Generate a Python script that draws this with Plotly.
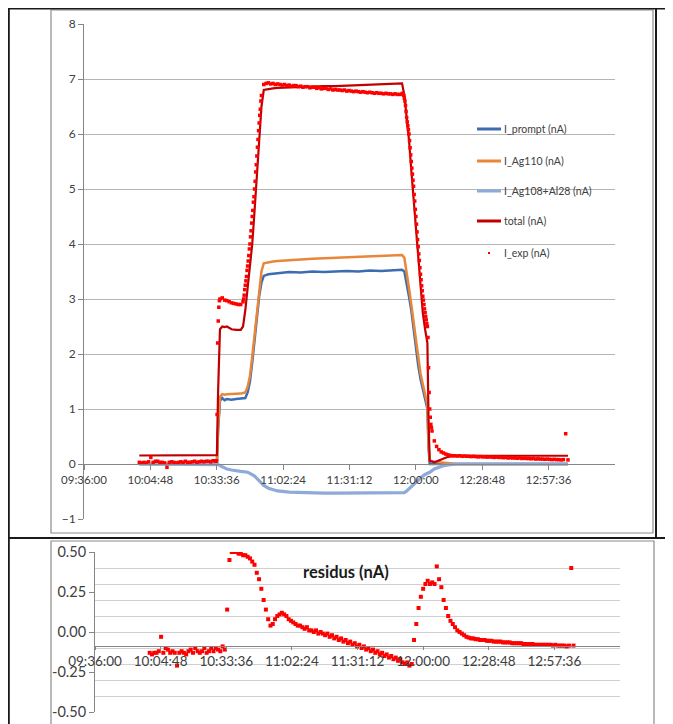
import pandas as pd
import plotly.graph_objects as go

DAY = "2024-01-01 "

# ---------------- data ----------------
tick_labels = ["09:36:00", "10:04:48", "10:33:36", "11:02:24",
               "11:31:12", "12:00:00", "12:28:48", "12:57:36"]
x_range = ["09:36:00", "13:26:24"]

t_model = [
    "10:00:00", "10:33:40", "10:34:10", "10:34:40", "10:35:00", "10:36:00", "10:37:00", "10:38:00", "10:40:00", "10:42:00",
    "10:44:00", "10:45:00", "10:46:00", "10:47:00", "10:48:00", "10:49:00", "10:50:00", "10:51:00", "10:52:00", "10:53:00",
    "10:54:00", "10:56:00", "10:58:00", "11:00:00", "11:05:00", "11:10:00", "11:15:00", "11:20:00", "11:25:00", "11:30:00",
    "11:35:00", "11:40:00", "11:45:00", "11:50:00", "11:54:00", "11:55:00", "11:56:00", "11:57:00", "11:58:00", "11:59:00",
    "12:00:00", "12:01:00", "12:02:00", "12:03:00", "12:04:00", "12:05:00", "12:05:30", "12:06:00", "12:08:00", "12:10:00",
    "12:12:00", "12:14:00", "12:16:00", "12:18:00", "12:20:00", "12:25:00", "12:30:00", "12:45:00", "13:00:00", "13:06:00"]

i_prompt = [
    0, 0, 0.6, 1.1, 1.15, 1.2, 1.16, 1.18, 1.17, 1.18,
    1.19, 1.2, 1.2, 1.3, 1.5, 1.85, 2.25, 2.65, 3.05, 3.3,
    3.42, 3.45, 3.46, 3.47, 3.49, 3.48, 3.5, 3.49, 3.5, 3.51,
    3.5, 3.52, 3.51, 3.52, 3.53, 3.5, 3.3, 3.05, 2.8, 2.45,
    2.1, 1.8, 1.55, 1.35, 1.2, 1.0, 0.3, 0.0, 0, 0,
    0, 0, 0, 0, 0, 0, 0, 0, 0, 0]

i_ag110 = [
    0, 0, 0.65, 1.15, 1.22, 1.27, 1.26, 1.27, 1.27, 1.28,
    1.28, 1.29, 1.3, 1.4, 1.6, 1.95, 2.35, 2.8, 3.2, 3.5,
    3.65, 3.67, 3.68, 3.69, 3.71, 3.72, 3.73, 3.74, 3.74, 3.75,
    3.76, 3.77, 3.78, 3.79, 3.8, 3.75, 3.5, 3.2, 2.9, 2.6,
    2.25, 1.95, 1.65, 1.45, 1.25, 1.08, 0.35, 0.06, 0.04, 0.03,
    0.02, 0.01, 0.0, 0, 0, 0, 0, 0, 0, 0]

i_ag108_al28 = [
    0, 0, -0.01, -0.02, -0.03, -0.05, -0.07, -0.09, -0.11, -0.13,
    -0.135, -0.14, -0.14, -0.15, -0.17, -0.19, -0.22, -0.26, -0.3, -0.35,
    -0.39, -0.44, -0.47, -0.49, -0.51, -0.52, -0.53, -0.53, -0.53, -0.53,
    -0.53, -0.53, -0.53, -0.53, -0.53, -0.52, -0.49, -0.45, -0.41, -0.37,
    -0.33, -0.29, -0.25, -0.22, -0.19, -0.17, -0.16, -0.15, -0.09, -0.055,
    -0.03, -0.015, -0.005, 0, 0, 0, 0, 0, 0, 0]

total = [
    0.155, 0.16, 1.3, 2.3, 2.45, 2.5, 2.49, 2.5, 2.45, 2.44,
    2.44, 2.5, 2.8, 3.2, 3.6, 4.0, 4.6, 5.3, 5.9, 6.5,
    6.8, 6.82, 6.83, 6.84, 6.85, 6.85, 6.86, 6.87, 6.87, 6.88,
    6.89, 6.9, 6.9, 6.91, 6.92, 6.7, 6.35, 5.9, 5.35, 4.8,
    4.25, 3.7, 3.15, 2.75, 2.45, 2.2, 0.8, 0.06, 0.03, 0.06,
    0.1, 0.13, 0.145, 0.15, 0.15, 0.15, 0.15, 0.15, 0.15, 0.15]

# measured current, one sample per minute from 10:00
exp_start = "10:00:00"
i_exp = [
    0.03, 0.02, 0.03, 0.02, 0.04, 0.12, 0.03, 0.05, 0.05, 0.03,
    0.03, 0.02, -0.06, 0.03, 0.04, 0.03, 0.02, 0.03, 0.04, 0.03,
    0.05, 0.03, 0.03, 0.04, 0.05, 0.03, 0.04, 0.05, 0.04, 0.05,
    0.05, 0.04, 0.06, 0.05,
    2.2, 3.0, 3.02, 2.98, 2.97, 2.95, 2.93, 2.92, 2.91, 2.9, 2.9,
    2.95, 3.25, 3.6, 4.0, 4.5, 5.0, 5.6, 6.2, 6.7, 6.9,
    6.92, 6.93, 6.91, 6.92, 6.90, 6.91, 6.90, 6.89, 6.90, 6.88,
    6.89, 6.87, 6.88, 6.88, 6.86, 6.87, 6.85, 6.86, 6.86, 6.84,
    6.85, 6.85, 6.83, 6.84, 6.82, 6.83, 6.83, 6.81, 6.82, 6.80,
    6.81, 6.80, 6.80, 6.79, 6.80, 6.78, 6.79, 6.78, 6.77, 6.78,
    6.77, 6.76, 6.77, 6.76, 6.75, 6.76, 6.75, 6.74, 6.75, 6.74,
    6.74, 6.73, 6.74, 6.73, 6.73, 6.72, 6.73, 6.72, 6.72, 6.73,
    6.65, 6.3, 6.0, 5.5, 5.05, 4.5, 3.95, 3.45, 3.05, 2.75, 2.5,
    1.0, 0.6, 0.42, 0.32, 0.26, 0.22, 0.2, 0.18, 0.165, 0.155,
    0.15, 0.15, 0.145, 0.15, 0.14, 0.145, 0.14, 0.14, 0.135, 0.14,
    0.135, 0.13, 0.135, 0.13, 0.13, 0.125, 0.13, 0.125, 0.12, 0.125,
    0.12, 0.12, 0.115, 0.12, 0.11, 0.115, 0.11, 0.11, 0.105, 0.11,
    0.10, 0.105, 0.10, 0.10, 0.095, 0.10, 0.09, 0.095, 0.09, 0.09,
    0.085, 0.09, 0.085, 0.08, 0.085, 0.08, 0.08, 0.075, 0.08, 0.55, 0.075]

# extra measured samples (at :15, :30, :45 s) during the fast transitions
fast_windows = [("10:33:00", "10:34:59"), ("10:45:00", "10:52:59"), ("11:54:00", "12:06:59")]
i_exp_fast = [
    0.05, 0.06, 0.9,   2.6, 2.85, 2.97,
    3.0, 3.07, 3.17,   3.33, 3.41, 3.52,   3.69, 3.79, 3.91,   4.13, 4.24, 4.38,
    4.61, 4.76, 4.86,  5.14, 5.31, 5.44,   5.76, 5.9, 6.06,    6.34, 6.45, 6.6,
    6.74, 6.72, 6.7,   6.6, 6.52, 6.41,    6.22, 6.15, 6.08,   5.88, 5.75, 5.62,
    5.38, 5.27, 5.16,  4.9, 4.78, 4.63,    4.36, 4.22, 4.08,   3.82, 3.7, 3.57,
    3.35, 3.24, 3.15,  2.98, 2.9, 2.82,    2.68, 2.62, 2.55,   2.3, 1.75, 1.3,
    0.85, 0.72, 0.66]

residus = [
    -0.13, -0.14, -0.13, -0.13, -0.12, -0.03, -0.13, -0.10, -0.11, -0.13,
    -0.12, -0.13, -0.21, -0.13, -0.12, -0.13, -0.14, -0.12, -0.11, -0.13,
    -0.10, -0.12, -0.13, -0.12, -0.10, -0.13, -0.12, -0.10, -0.12, -0.10,
    -0.11, -0.12, -0.09, -0.11,
    0.14, 0.45, 0.50, 0.50, 0.50, 0.49, 0.49, 0.48, 0.48, 0.47, 0.46,
    0.44, 0.42, 0.37, 0.33, 0.27, 0.20, 0.14, 0.08, 0.04, 0.05,
    0.08, 0.10, 0.11, 0.12, 0.11, 0.10, 0.08, 0.07, 0.06, 0.05,
    0.04, 0.04, 0.03, 0.02, 0.03, 0.01, 0.01, 0.00, 0.01, -0.01,
    0.00, -0.01, -0.02, -0.01, -0.03, -0.02, -0.04, -0.03, -0.05, -0.04,
    -0.06, -0.05, -0.07, -0.06, -0.08, -0.07, -0.09, -0.08, -0.10, -0.09,
    -0.11, -0.10, -0.12, -0.11, -0.13, -0.12, -0.14, -0.13, -0.15, -0.14,
    -0.16, -0.15, -0.17, -0.16, -0.18, -0.17, -0.19, -0.20, -0.19, -0.21,
    -0.20, -0.05, 0.05, 0.15, 0.22, 0.27, 0.30, 0.32, 0.30, 0.31, 0.30,
    0.41, 0.33, 0.28, 0.20, 0.15, 0.10, 0.07, 0.05, 0.03, 0.01,
    0.00, -0.01, -0.02, -0.03, -0.035, -0.04, -0.04, -0.045, -0.045, -0.05,
    -0.05, -0.05, -0.055, -0.055, -0.055, -0.06, -0.06, -0.06, -0.06, -0.065,
    -0.065, -0.065, -0.065, -0.07, -0.07, -0.07, -0.07, -0.07, -0.075, -0.075,
    -0.075, -0.075, -0.075, -0.08, -0.08, -0.08, -0.08, -0.08, -0.08, -0.08,
    -0.08, -0.085, -0.08, -0.085, -0.085, -0.085, -0.085, -0.09, -0.085, 0.40, -0.085]

series_names = ["I_prompt (nA)", "I_Ag110 (nA)", "I_Ag108+Al28 (nA)", "total (nA)", "I_exp (nA)"]
res_title = "residus (nA)"
y_ticks_res = [0.5, 0.25, 0.0, -0.25, -0.5]

# ---------------- styling ----------------
# the page body adds an 8 px margin; the figure is sized and positioned to compensate
OFF = 8
W, H = 673 - OFF, 724 - OFF
def px(x):
    return (x - OFF) / W
def py(y):
    return 1 - (y - OFF) / H

FONT = "Lato, Roboto, sans-serif"
TXT = "#404040"
AX = "#868686"
colors = ["#3C6DB0", "#E8863A", "#8EAAD8", "#C00000", "#FF0000"]
widths = [2.5, 2.5, 3.2, 2.2]

tm = [DAY + t for t in t_model]
t_exp = pd.date_range(DAY + exp_start, periods=len(i_exp), freq="min")
t_fast = []
for a, b in fast_windows:
    rng = pd.date_range(DAY + a, DAY + b, freq="15s")
    t_fast.extend([t for t in rng if t.second != 0])
tickvals = [DAY + t for t in tick_labels]
xr = [DAY + t for t in x_range]

fig = go.Figure()
for name, vals, c, w in zip(series_names[:4], [i_prompt, i_ag110, i_ag108_al28, total], colors, widths):
    fig.add_trace(go.Scatter(x=tm, y=vals, mode="lines", name=name,
                             line=dict(color=c, width=w), xaxis="x", yaxis="y"))
exp_marker = dict(color=colors[4], size=3.5, symbol="square", line=dict(width=0))
fig.add_trace(go.Scatter(x=list(t_exp) + t_fast, y=i_exp + i_exp_fast, mode="markers",
                         name=series_names[4], marker=exp_marker, xaxis="x", yaxis="y"))
fig.add_trace(go.Scatter(x=t_exp, y=residus, mode="markers", name=res_title,
                         marker=dict(color="#FF0000", size=4, symbol="square", line=dict(width=0)),
                         xaxis="x2", yaxis="y2"))
# invisible trace to carry the label axis of the residual chart
fig.add_trace(go.Scatter(x=[xr[0]], y=[0], mode="markers", marker=dict(opacity=0),
                         hoverinfo="skip", xaxis="x2", yaxis="y3"))

y0_top = 464  # pixel row of y=0 in top chart
fig.update_layout(
    width=W, height=H, margin=dict(l=0, r=0, t=0, b=0, autoexpand=False),
    paper_bgcolor="white", plot_bgcolor="rgba(0,0,0,0)", showlegend=False,
    font=dict(family=FONT, color=TXT),
    xaxis=dict(domain=[px(84), px(615)], type="date", range=xr, automargin=False,
               tickmode="array", tickvals=tickvals, ticktext=tick_labels,
               anchor="free", position=py(y0_top), showgrid=False, zeroline=False,
               showline=True, linecolor=AX, linewidth=1, ticks="outside", ticklen=5,
               tickcolor=AX, tickfont=dict(size=11.5, family=FONT, color=TXT)),
    yaxis=dict(domain=[py(519), py(24)], range=[-1, 8], dtick=1, tick0=0, anchor="x",
               automargin=False,
               showgrid=True, gridcolor="#B5B5B5", gridwidth=1, zeroline=False,
               showline=True, linecolor=AX, ticks="outside", ticklen=5, tickcolor=AX,
               tickfont=dict(size=12, family=FONT, color=TXT)),
    xaxis2=dict(domain=[px(95), px(620)], type="date", range=xr, automargin=False,
                tickmode="array", tickvals=tickvals, ticktext=tick_labels,
                anchor="free", position=py(646), showgrid=False, zeroline=False,
                showline=True, linecolor=AX, ticks="outside", ticklen=3, tickcolor=AX,
                tickfont=dict(size=13.5, family=FONT, color=TXT)),
    yaxis2=dict(domain=[py(712), py(552)], range=[-0.5, 0.5], dtick=0.1, tick0=0,
                anchor="x2", automargin=False,
                showgrid=True, gridcolor="#D0D0D0", zeroline=False,
                showticklabels=False, ticks="", showline=True, linecolor=AX),
    yaxis3=dict(domain=[py(712), py(552)], range=[-0.5, 0.5], overlaying="y2", anchor="x2",
                automargin=False,
                tickmode="array", tickvals=y_ticks_res,
                ticktext=["%.2f" % v for v in y_ticks_res],
                showgrid=False, zeroline=False, ticks="outside", ticklen=5, tickcolor=AX,
                tickfont=dict(size=14.5, family=FONT, color=TXT)),
)

shapes = []
# chart frames (grey)
shapes.append(dict(type="rect", xref="paper", yref="paper", x0=px(51), x1=px(653), y0=py(533), y1=py(10),
                   line=dict(color="#8C8C8C", width=1.2)))
shapes.append(dict(type="rect", xref="paper", yref="paper", x0=px(51), x1=px(654), y0=py(740), y1=py(541),
                   line=dict(color="#8C8C8C", width=1.2)))
# table borders (black)
for (x0, y0, x1, y1) in [(8, 8.6, 673, 8.6), (8.8, 8, 8.8, 730), (8, 538, 673, 538), (656, 8, 656, 538)]:
    shapes.append(dict(type="line", xref="paper", yref="paper", x0=px(x0), y0=py(y0), x1=px(x1), y1=py(y1),
                       line=dict(color="#1A1A1A", width=2)))

# legend (drawn manually)
leg_y = [129, 161, 191, 221, 253]
annotations = []
for i, name in enumerate(series_names):
    if i < 4:
        shapes.append(dict(type="line", xref="paper", yref="paper", x0=px(477), x1=px(501),
                           y0=py(leg_y[i]), y1=py(leg_y[i]), line=dict(color=colors[i], width=3)))
    else:
        shapes.append(dict(type="rect", xref="paper", yref="paper", x0=px(488), x1=px(490),
                           y0=py(leg_y[i] + 1), y1=py(leg_y[i] - 1), fillcolor=colors[i],
                           line=dict(width=0)))
    annotations.append(dict(xref="paper", yref="paper", x=px(502), y=py(leg_y[i]), text=name,
                            showarrow=False, xanchor="left", yanchor="middle",
                            font=dict(size=10.5, family=FONT, color=TXT)))
annotations.append(dict(xref="paper", yref="paper", x=px(346), y=py(572), text="<b>%s</b>" % res_title,
                        showarrow=False, xanchor="center", yanchor="middle",
                        font=dict(size=16.5, family=FONT, color="#1A1A1A")))
fig.update_layout(shapes=shapes, annotations=annotations)

fig.write_html("out.html")
